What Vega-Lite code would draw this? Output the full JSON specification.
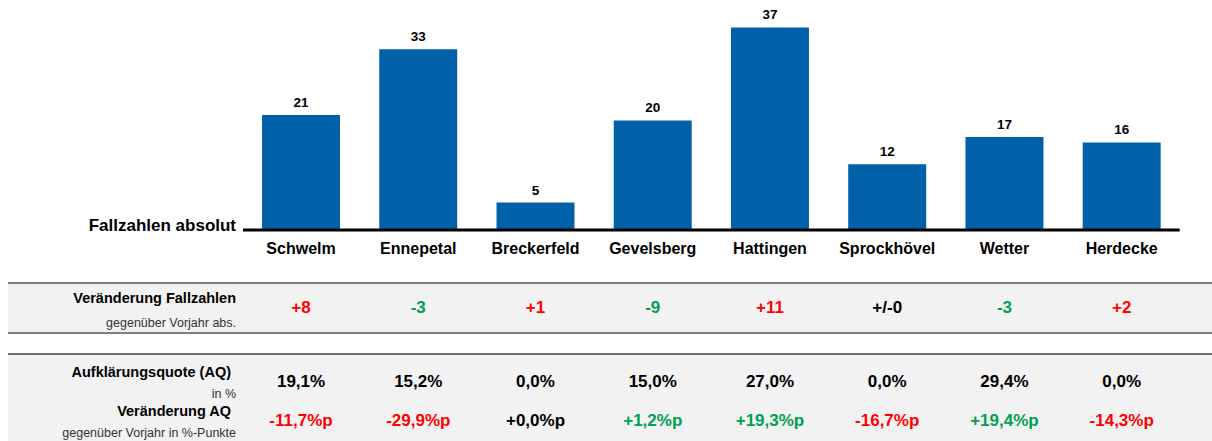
{
  "$schema": "https://vega.github.io/schema/vega-lite/v6.json",
  "padding": {"left": 7, "top": 0, "right": 0, "bottom": 0},
  "spacing": 21,
  "bounds": "flush",
  "config": {
    "view": {"stroke": null},
    "font": "Liberation Sans",
    "locale": {"number": {"decimal": ",", "thousands": ".", "grouping": [3], "currency": ["", " €"], "minus": "-"}}
  },
  "resolve": {"scale": {"x": "independent", "y": "independent"}},
  "datasets": {
    "kreis": [
      {"region": "Schwelm", "faelle": 21, "veraenderung": 8, "aq": 19.1, "aq_diff": -11.7},
      {"region": "Ennepetal", "faelle": 33, "veraenderung": -3, "aq": 15.2, "aq_diff": -29.9},
      {"region": "Breckerfeld", "faelle": 5, "veraenderung": 1, "aq": 0.0, "aq_diff": 0.0},
      {"region": "Gevelsberg", "faelle": 20, "veraenderung": -9, "aq": 15.0, "aq_diff": 1.2},
      {"region": "Hattingen", "faelle": 37, "veraenderung": 11, "aq": 27.0, "aq_diff": 19.3},
      {"region": "Sprockhövel", "faelle": 12, "veraenderung": 0, "aq": 0.0, "aq_diff": -16.7},
      {"region": "Wetter", "faelle": 17, "veraenderung": -3, "aq": 29.4, "aq_diff": 19.4},
      {"region": "Herdecke", "faelle": 16, "veraenderung": 2, "aq": 0.0, "aq_diff": -14.3}
    ],
    "titel": [{"titel": "Fallzahlen absolut"}],
    "zeilen_fall": [{"zeile": "Veränderung Fallzahlen", "einheit": "gegenüber Vorjahr abs."}],
    "zeilen_aq": [
      {"zeile": "Aufklärungsquote (AQ)", "einheit": "in %"},
      {"zeile": "Veränderung AQ", "einheit": "gegenüber Vorjahr in %-Punkte"}
    ]
  },
  "vconcat": [
    {
      "width": 1205,
      "height": 262,
      "layer": [
        {
          "data": {"name": "kreis"},
          "mark": {"type": "bar", "color": "#0060a8"},
          "encoding": {
            "x": {"field": "region", "type": "nominal", "axis": null,
              "scale": {"type": "band", "domain": ["Schwelm", "Ennepetal", "Breckerfeld", "Gevelsberg", "Hattingen", "Sprockhövel", "Wetter", "Herdecke"], "paddingInner": 0.335, "paddingOuter": 0.1675, "range": [234.4, 1172.3]}},
            "y": {"field": "faelle", "type": "quantitative", "axis": null, "scale": {"domain": [0, 42], "range": [230, 0], "nice": false}}
          }
        },
        {
          "data": {"name": "kreis"},
          "mark": {"type": "text", "fontWeight": "bold", "fontSize": 13.5, "baseline": "middle", "dy": -12, "color": "#000000"},
          "encoding": {
            "x": {"field": "region", "type": "nominal"},
            "y": {"field": "faelle", "type": "quantitative"},
            "text": {"field": "faelle", "type": "quantitative"}
          }
        },
        {
          "data": {"name": "kreis"},
          "mark": {"type": "text", "fontWeight": "bold", "fontSize": 16, "baseline": "middle", "dy": 19, "color": "#000000"},
          "encoding": {
            "x": {"field": "region", "type": "nominal"},
            "y": {"datum": 0, "type": "quantitative"},
            "text": {"field": "region", "type": "nominal"}
          }
        },
        {
          "data": {"name": "titel"},
          "mark": {"type": "rule", "color": "#000000", "strokeWidth": 3},
          "encoding": {
            "x": {"datum": "Schwelm", "type": "nominal", "bandPosition": -0.244},
            "x2": {"datum": "Herdecke", "bandPosition": 1.244},
            "y": {"datum": 0, "type": "quantitative"}
          }
        },
        {
          "data": {"name": "titel"},
          "mark": {"type": "text", "fontWeight": "bold", "fontSize": 17, "align": "right", "baseline": "middle", "dx": -26, "dy": -4, "color": "#000000"},
          "encoding": {
            "x": {"datum": "Schwelm", "type": "nominal", "bandPosition": 0},
            "y": {"datum": 0, "type": "quantitative"},
            "text": {"field": "titel", "type": "nominal"}
          }
        }
      ]
    },
    {
      "width": 1205,
      "height": 50,
      "view": {"fill": "#f2f2f2", "stroke": null},
      "layer": [
        {
          "data": {"name": "zeilen_fall"},
          "mark": {"type": "rule", "color": "#808080", "strokeWidth": 2},
          "encoding": {
            "y": {"field": "zeile", "type": "nominal", "bandPosition": 0, "axis": null, "scale": {"type": "band", "paddingInner": 0, "paddingOuter": 0}}
          }
        },
        {
          "data": {"name": "zeilen_fall"},
          "mark": {"type": "rule", "color": "#808080", "strokeWidth": 2},
          "encoding": {
            "y": {"field": "zeile", "type": "nominal", "bandPosition": 1}
          }
        },
        {
          "data": {"name": "zeilen_fall"},
          "mark": {"type": "text", "fontWeight": "bold", "fontSize": 14.5, "align": "right", "baseline": "middle", "dx": -26, "dy": -9, "color": "#000000"},
          "encoding": {
            "x": {"datum": "Schwelm", "type": "nominal", "bandPosition": 0, "axis": null,
              "scale": {"type": "band", "domain": ["Schwelm", "Ennepetal", "Breckerfeld", "Gevelsberg", "Hattingen", "Sprockhövel", "Wetter", "Herdecke"], "paddingInner": 0.335, "paddingOuter": 0.1675, "range": [234.4, 1172.3]}},
            "y": {"field": "zeile", "type": "nominal", "bandPosition": 0.5},
            "text": {"field": "zeile", "type": "nominal"}
          }
        },
        {
          "data": {"name": "zeilen_fall"},
          "mark": {"type": "text", "fontSize": 12.5, "align": "right", "baseline": "middle", "dx": -26, "dy": 15, "color": "#333333"},
          "encoding": {
            "x": {"datum": "Schwelm", "type": "nominal", "bandPosition": 0},
            "y": {"field": "zeile", "type": "nominal", "bandPosition": 0.5},
            "text": {"field": "einheit", "type": "nominal"}
          }
        },
        {
          "data": {"name": "kreis"},
          "mark": {"type": "text", "fontWeight": "bold", "fontSize": 17, "baseline": "middle"},
          "encoding": {
            "x": {"field": "region", "type": "nominal"},
            "text": {"condition": {"test": "datum.veraenderung === 0", "value": "+/-0"}, "field": "veraenderung", "type": "quantitative", "format": "+d"},
            "color": {"condition": [{"test": "datum.veraenderung > 0", "value": "#ff0000"}, {"test": "datum.veraenderung < 0", "value": "#00a050"}], "value": "#000000"}
          }
        }
      ]
    },
    {
      "width": 1205,
      "height": 87,
      "view": {"fill": "#f2f2f2", "stroke": null},
      "layer": [
        {
          "data": {"name": "kreis"},
          "mark": {"type": "text", "fontWeight": "bold", "fontSize": 17, "baseline": "middle", "color": "#000000", "text": {"expr": "format(datum.aq, '.1f') + '%'"}},
          "encoding": {
            "x": {"field": "region", "type": "nominal",
              "axis": {"orient": "top", "domain": false, "labels": false, "ticks": false, "grid": false, "title": null},
              "scale": {"type": "band", "domain": ["Schwelm", "Ennepetal", "Breckerfeld", "Gevelsberg", "Hattingen", "Sprockhövel", "Wetter", "Herdecke"], "paddingInner": 0.335, "paddingOuter": 0.1675, "range": [234.4, 1172.3]}},
            "y": {"datum": "Aufklärungsquote (AQ)", "type": "nominal", "bandPosition": 0.5, "axis": null,
              "scale": {"type": "band", "domain": ["Aufklärungsquote (AQ)", "Veränderung AQ"], "paddingInner": 0, "paddingOuter": 0.1154, "align": 0.911}}
          }
        },
        {
          "data": {"name": "kreis"},
          "mark": {"type": "text", "fontWeight": "bold", "fontSize": 17, "baseline": "middle", "text": {"expr": "format(datum.aq_diff, '+.1f') + '%p'"}},
          "encoding": {
            "x": {"field": "region", "type": "nominal"},
            "y": {"datum": "Veränderung AQ", "type": "nominal", "bandPosition": 0.5},
            "color": {"condition": [{"test": "datum.aq_diff < 0", "value": "#ff0000"}, {"test": "datum.aq_diff > 0", "value": "#00a050"}], "value": "#000000"}
          }
        },
        {
          "data": {"name": "zeilen_aq"},
          "mark": {"type": "rule", "color": "#404040", "strokeWidth": 1.5},
          "encoding": {
            "y": {"field": "zeile", "type": "nominal", "bandPosition": -0.21}
          },
          "transform": [{"filter": "datum.zeile === 'Aufklärungsquote (AQ)'"}]
        },
        {
          "data": {"name": "zeilen_aq"},
          "mark": {"type": "text", "fontWeight": "bold", "fontSize": 14.5, "align": "right", "baseline": "middle", "dx": -31, "dy": -8.4, "color": "#000000"},
          "encoding": {
            "x": {"datum": "Schwelm", "type": "nominal", "bandPosition": 0},
            "y": {"field": "zeile", "type": "nominal", "bandPosition": 0.5},
            "text": {"field": "zeile", "type": "nominal"}
          }
        },
        {
          "data": {"name": "zeilen_aq"},
          "mark": {"type": "text", "fontSize": 12.5, "align": "right", "baseline": "middle", "dx": -26, "dy": 12.2, "color": "#333333"},
          "encoding": {
            "x": {"datum": "Schwelm", "type": "nominal", "bandPosition": 0},
            "y": {"field": "zeile", "type": "nominal", "bandPosition": 0.5},
            "text": {"field": "einheit", "type": "nominal"}
          }
        }
      ]
    }
  ]
}
